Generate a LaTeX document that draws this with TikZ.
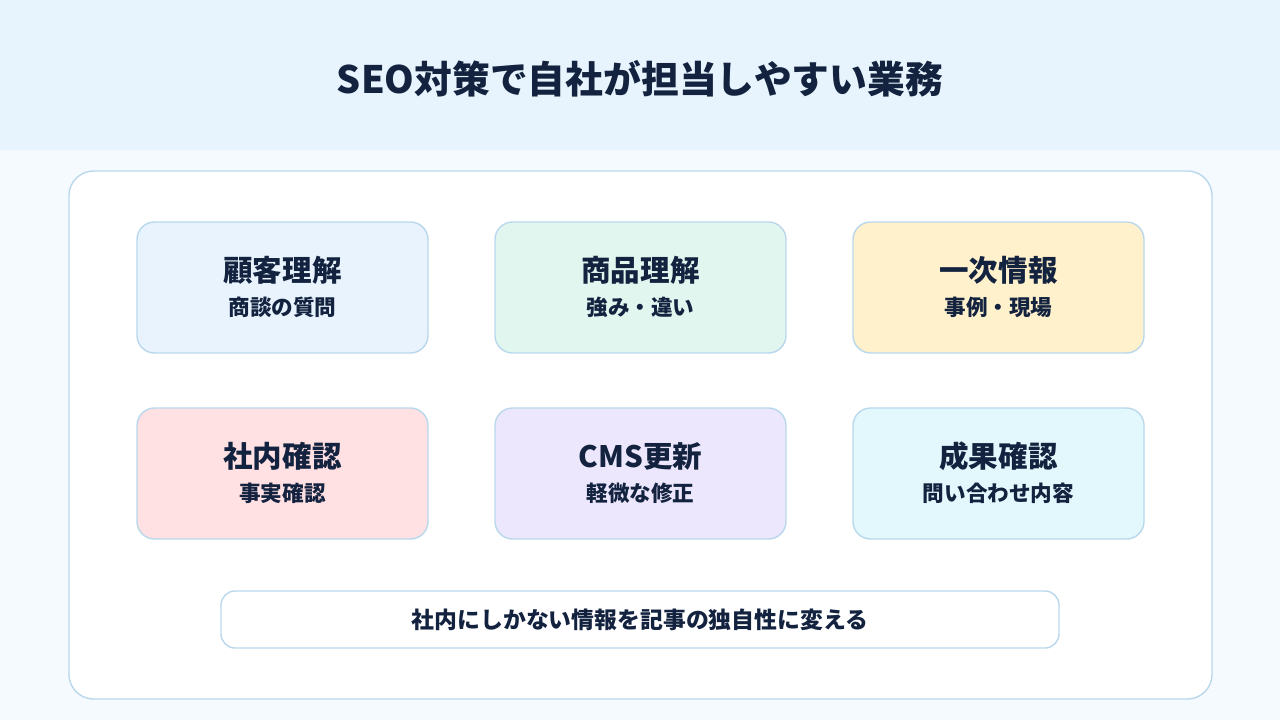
\documentclass[tikz,border=0pt]{standalone}
\usepackage{fontspec}
\setmainfont{Noto Sans CJK JP}
\definecolor{ink}{HTML}{13233F}
\definecolor{edge}{HTML}{B9D8EC}
\definecolor{bandbg}{HTML}{E8F4FD}
\definecolor{pagebg}{HTML}{F5FAFE}
\definecolor{cblue}{HTML}{E8F3FD}
\definecolor{cgreen}{HTML}{E0F6EF}
\definecolor{cyellow}{HTML}{FFF1CC}
\definecolor{cpink}{HTML}{FFE0E3}
\definecolor{clav}{HTML}{EDE7FD}
\definecolor{ccyan}{HTML}{E3F8FD}
\tikzset{
  card/.style={draw=edge, line width=0.8pt, rounded corners=10pt},
  head/.style={font=\bfseries\fontsize{16.8}{20}\selectfont, text=ink},
  sub/.style={font=\bfseries\fontsize{12.3}{14}\selectfont, text=ink},
}
\begin{document}
\begin{tikzpicture}[x=0.02cm,y=-0.02cm]
  \useasboundingbox (0,0) rectangle (1280,720);
  \fill[pagebg] (0,0) rectangle (1280,720);
  \fill[bandbg] (0,0) rectangle (1280,150);
  \node[font=\bfseries\fontsize{21.5}{24}\selectfont, text=ink] (title) at (640,79) {SEO対策で自社が担当しやすい業務};
  \draw[card, fill=white, rounded corners=14pt] (69,171) rectangle (1212,699);

  % six cards
  \foreach \x/\y/\c/\h/\s/\n in {
    137/222/cblue/顧客理解/商談の質問/a,
    495/222/cgreen/商品理解/強み・違い/b,
    853/222/cyellow/一次情報/事例・現場/c,
    137/408/cpink/社内確認/事実確認/d,
    495/408/clav/CMS更新/軽微な修正/e,
    853/408/ccyan/成果確認/問い合わせ内容/f}{
    \draw[card, fill=\c] (\x,\y) rectangle ++(291,131);
    \node[head] (h\n) at (\x+145.5,\y+48) {\h};
    \node[sub] (s\n) at (\x+145.5,\y+85) {\s};
  }

  \draw[card, fill=white, rounded corners=8pt] (221,591) rectangle (1059,648);
  \node[sub, font=\bfseries\fontsize{13}{15}\selectfont] (note) at (640,619.5) {社内にしかない情報を記事の独自性に変える};
\end{tikzpicture}
\end{document}
